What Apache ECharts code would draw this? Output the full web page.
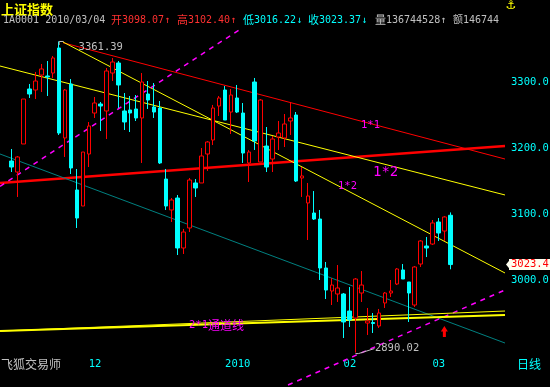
<!DOCTYPE html>
<html><head><meta charset="utf-8">
<script src="https://cdn.jsdelivr.net/npm/echarts@6/dist/echarts.min.js"></script>
<style>html,body{margin:0;padding:0;background:#000;}#c{width:550px;height:387px;}</style>
</head><body><div id="c"></div>
<script>
// ---------- data ----------
const dates = [
 '2009/11/12','2009/11/13','2009/11/16','2009/11/17','2009/11/18','2009/11/19','2009/11/20','2009/11/23','2009/11/24','2009/11/25','2009/11/26','2009/11/27','2009/11/30',
 '2009/12/01','2009/12/02','2009/12/03','2009/12/04','2009/12/07','2009/12/08','2009/12/09','2009/12/10','2009/12/11','2009/12/14','2009/12/15','2009/12/16','2009/12/17','2009/12/18','2009/12/21','2009/12/22','2009/12/23','2009/12/24','2009/12/25','2009/12/28','2009/12/29','2009/12/30','2009/12/31',
 '2010/01/04','2010/01/05','2010/01/06','2010/01/07','2010/01/08','2010/01/11','2010/01/12','2010/01/13','2010/01/14','2010/01/15','2010/01/18','2010/01/19','2010/01/20','2010/01/21','2010/01/22','2010/01/25','2010/01/26','2010/01/27','2010/01/28','2010/01/29',
 '2010/02/01','2010/02/02','2010/02/03','2010/02/04','2010/02/05','2010/02/08','2010/02/09','2010/02/10','2010/02/11','2010/02/12','2010/02/22','2010/02/23','2010/02/24','2010/02/25','2010/02/26',
 '2010/03/01','2010/03/02','2010/03/03','2010/03/04'
];
const opens = [
 3180.3,3163.6,3206.1,3289.4,3287.9,3310.6,3309.1,3313.6,3351.5,3215.2,
 3297.0,3136.4,3112.1,3190.9,3253.0,3266.7,3256.1,3313.6,3328.8,3256.1,
 3257.6,3259.1,3245.5,3281.8,3262.1,3260.6,3153.0,3106.1,3124.2,3048.5,
 3078.8,3147.0,3147.0,3190.9,3212.1,3263.6,3287.9,3254.5,3275.8,3253.0,
 3177.3,3300.0,3178.8,3203.0,3183.3,3216.7,3215.2,3240.9,3250.0,3154.5,
 3116.7,3101.5,3092.4,3018.2,2983.3,2978.8,2978.8,2953.0,2942.4,2980.3,
 2934.8,2935.6,2930.3,2965.2,2980.3,2993.9,3015.2,2997.0,2962.1,3024.2,
 3051.5,3054.5,3087.9,3074.2,3098.07
];
const closes = [
 3171.2,3186.4,3274.2,3281.8,3301.5,3319.7,3307.6,3336.4,3222.7,3287.9,
 3169.7,3093.9,3193.9,3233.3,3268.2,3263.6,3316.7,3330.3,3295.5,3239.4,
 3253.0,3245.5,3300.0,3272.7,3254.5,3177.3,3112.1,3121.2,3048.5,3072.7,
 3151.5,3139.4,3187.9,3209.1,3260.6,3275.8,3242.4,3280.3,3254.5,3192.4,
 3193.9,3210.6,3272.7,3171.2,3213.6,3222.7,3236.4,3245.5,3150.0,3157.6,
 3127.3,3092.4,3018.2,2984.8,2992.4,2987.9,2936.4,2939.4,3001.5,2992.4,
 2937.9,2934.1,2950.0,2980.3,2983.3,3016.7,3001.5,2980.3,3019.7,3059.1,
 3048.5,3086.4,3071.2,3095.5,3023.37
];
const lows = [
 3163.6,3125.8,3206.1,3275.8,3274.2,3284.8,3278.8,3306.1,3219.7,3186.4,
 3160.6,3078.8,3112.1,3171.2,3245.5,3225.8,3213.6,3301.5,3260.6,3227.3,
 3224.2,3240.9,3177.3,3259.1,3245.5,3175.8,3106.1,3087.9,3037.9,3039.4,
 3072.7,3125.8,3147.0,3165.2,3204.5,3248.5,3242.4,3221.2,3253.0,3177.3,
 3148.5,3197.0,3178.8,3163.6,3163.6,3197.0,3201.5,3219.7,3148.5,3125.8,
 3060.6,3090.9,3000.0,2971.2,2962.1,2966.7,2912.1,2928.8,2890.02,2966.7,
 2916.7,2919.7,2927.3,2957.6,2974.2,2992.4,3001.5,2936.4,2959.1,3019.7,
 3034.8,3053.0,3059.1,3059.1,3016.22
];
const highs = [
 3198.5,3187.9,3274.2,3297.0,3315.2,3327.3,3331.8,3339.4,3361.39,3289.4,
 3304.5,3168.2,3193.9,3239.4,3277.3,3269.7,3321.2,3336.4,3331.8,3283.3,
 3278.8,3280.3,3313.6,3301.5,3298.5,3271.2,3168.2,3124.2,3128.8,3077.3,
 3154.5,3153.0,3200.0,3210.6,3265.2,3278.8,3293.9,3289.4,3295.5,3268.2,
 3197.0,3306.1,3274.2,3231.8,3218.2,3240.9,3251.5,3269.7,3254.5,3171.2,
 3147.0,3134.8,3106.1,3027.3,3003.0,3022.7,2980.3,2989.4,3003.0,3013.6,
 2957.6,2950.0,2956.1,2981.8,3000.0,3018.2,3024.2,2997.0,3021.2,3060.6,
 3065.2,3090.9,3093.9,3097.0,3102.40
];
const yTicks = [3000, 3100, 3200, 3300];
const tickDates = ['2009/12/01', '2010/01/04', '2010/02/01', '2010/03/01'];
const tickLabels = ['12', '2010', '02', '03'];
const volumeText = '136744528';
const amountText = '14674480';
// drawn lines: [trading-day index, price] end points
const redUpperLine   = [[8.66, 3359.5], [83.23, 3183.3]];
const redLowerLine   = [[-1.974, 3147.0], [83.23, 3203.0]];
const yellowLineA    = [[-1.974, 3324.2], [83.23, 3128.8]];
const yellowLineB    = [[8.66, 3360.6], [83.23, 3010.6]];
const tealLine       = [[-1.974, 3190.9], [83.23, 2904.5]];
const magentaLine1   = [[-1.974, 3142.0], [38.35, 3378.8]];
const magentaLine2   = [[46.62, 2840.9], [83.23, 2984.8]];
const yellowChannel1 = [[-1.974, 2922.7], [83.23, 2947.0]];
const yellowChannel2 = [[-1.974, 2922.7], [83.23, 2953.0]];

// ---------- chart ----------
const MONO = "'DejaVu Sans Mono', monospace";
const CJK = "'Noto Sans CJK SC', sans-serif";
const RED = '#ff0000', CYAN = '#00ffff', YEL = '#ffff00', MAG = '#ff00ff', GREY = '#c0c0c0';
const xMin = -1.974, xMax = 83.23, yMin = 2885, yMax = 3380;
const tickIdx = tickDates.map(d => dates.indexOf(d));
const last = closes.length - 1;

function lineSeries(data, color, width, type, clip) {
  return { type: 'line', data: data, symbol: 'none', silent: true, clip: clip !== false,
    lineStyle: { color: color, width: width, type: type || 'solid' }, z: 3 };
}

const chart = echarts.init(document.getElementById('c'));
chart.setOption({
  backgroundColor: '#000',
  animation: false,
  grid: { left: 0, right: 45, top: 29.2, bottom: 31.1, containLabel: false, outerBoundsMode: 'none' },
  xAxis: {
    type: 'value', min: xMin, max: xMax,
    splitLine: { show: false }, axisLine: { show: false }, axisTick: { show: false },
    axisLabel: { customValues: tickIdx, formatter: v => tickLabels[tickIdx.indexOf(v)] || '',
      color: CYAN, align: 'left', margin: 3, fontFamily: MONO, fontSize: 10.5 }
  },
  yAxis: [
    { type: 'value', position: 'right', min: yMin, max: yMax,
      splitLine: { show: false }, axisLine: { show: false }, axisTick: { show: false },
      axisLabel: { customValues: yTicks, formatter: v => v.toFixed(1), color: CYAN,
        fontFamily: MONO, fontSize: 10.5, margin: 6 } },
    { type: 'value', position: 'right', min: yMin, max: yMax, offset: 0,
      splitLine: { show: false }, axisLine: { show: false }, axisTick: { show: false },
      axisLabel: { customValues: [closes[last]], formatter: v => v.toFixed(1), color: RED,
        fontFamily: MONO, fontSize: 10.5, margin: 4, backgroundColor: '#fffff0',
        padding: [0, 2, 0, 2], lineHeight: 11 } }
  ],
  series: [
    lineSeries(redUpperLine, RED, 1),
    lineSeries(redLowerLine, RED, 2.5),
    lineSeries(yellowLineA, YEL, 1),
    lineSeries(yellowLineB, YEL, 1),
    lineSeries(tealLine, '#008080', 1),
    lineSeries(magentaLine1, MAG, 1.5, [5, 5]),
    lineSeries(magentaLine2, MAG, 1.5, [5, 5], false),
    lineSeries(yellowChannel1, YEL, 2),
    lineSeries(yellowChannel2, YEL, 1),
    {
      type: 'candlestick', z: 5, silent: true,
      data: dates.map((d, i) => [i, opens[i], closes[i], lows[i], highs[i]]),
      encode: { x: 0, y: [1, 2, 3, 4] },
      barWidth: 4,
      itemStyle: { color: '#000', color0: CYAN, borderColor: RED, borderColor0: CYAN, borderWidth: 1 }
    }
  ]
});

// ---------- annotations ----------
const P = (i, v) => chart.convertToPixel({ xAxisIndex: 0, yAxisIndex: 0 }, [i, v]);
const hiIdx = highs.indexOf(Math.max(...highs));
const loIdx = lows.indexOf(Math.min(...lows));
const [hx, hy] = P(hiIdx, highs[hiIdx]);
const [lx, ly] = P(loIdx, lows[loIdx]);
const ty = P(last, closes[last])[1];
const ax = P(73, closes[last])[0];

function txt(x, y, text, fill, font, extra) {
  return Object.assign({ type: 'text', x: x, y: y, silent: true, z: 50,
    style: { text: text, fill: fill, font: font, verticalAlign: 'middle' } }, extra || {});
}
function rich(x, y, cjk, num, fill) {
  return { type: 'text', x: x, y: y, silent: true, z: 50,
    style: { text: '{c|' + cjk + '}{n|' + num + '}', fill: fill, verticalAlign: 'middle',
      rich: { c: { fontFamily: CJK, fontSize: 11, fill: fill }, n: { fontFamily: MONO, fontSize: 10, fill: fill } } } };
}

const g = [];
g.push(txt(1, 9, '上证指数', YEL, 'bold 13px ' + CJK));
g.push(txt(3, 20, '1A0001 ' + dates[last], GREY, '10px ' + MONO));
g.push(rich(111, 20, '开', opens[last].toFixed(2) + '↑', '#ff3030'));
g.push(rich(177, 20, '高', highs[last].toFixed(2) + '↑', '#ff3030'));
g.push(rich(243, 20, '低', lows[last].toFixed(2) + '↓', CYAN));
g.push(rich(308, 20, '收', closes[last].toFixed(2) + '↓', CYAN));
g.push(rich(375, 20, '量', volumeText + '↑', GREY));
g.push({ type: 'text', x: 453, y: 20, silent: true, z: 50,
  style: { text: '额' + amountText, fill: GREY, font: "10px 'DejaVu Sans Mono', 'Noto Sans CJK SC'",
    verticalAlign: 'middle', width: 52, overflow: 'truncate', ellipsis: '' } });
g.push(txt(511, 6, '⚓', YEL, "bold 12px 'DejaVu Sans'", { style: { text: '⚓', fill: YEL, font: "bold 12px 'DejaVu Sans'", align: 'center', verticalAlign: 'middle' } }));

g.push(txt(1, 364, '飞狐交易师', GREY, '12px ' + CJK));
g.push(txt(517, 364, '日线', CYAN, '12px ' + CJK));

g.push(txt(361, 125, '1*1', MAG, '10.5px ' + MONO));
g.push(txt(373, 172.5, '1*2', MAG, '14px ' + MONO));
g.push(txt(338, 186.5, '1*2', MAG, '10.5px ' + MONO));
g.push({ type: 'text', x: 189, y: 325, silent: true, z: 50,
  style: { text: '{n|2*1}{c|通道线}', fill: MAG, verticalAlign: 'middle',
    rich: { n: { fontFamily: MONO, fontSize: 10.5, fill: MAG }, c: { fontFamily: CJK, fontSize: 12, fill: MAG } } } });

// high / low markers
g.push({ type: 'polyline', silent: true, z: 50, shape: { points: [[hx, hy + 3.5], [hx, hy], [hx + 4.5, hy]] },
  style: { stroke: GREY, lineWidth: 1, fill: null } });
g.push(txt(hx + 19.5, hy + 6, highs[hiIdx].toFixed(2), GREY, '10.5px ' + MONO));
g.push({ type: 'polyline', silent: true, z: 50, shape: { points: [[lx, ly + 1], [lx + 3, ly + 1], [lx + 19, ly - 4]] },
  style: { stroke: GREY, lineWidth: 1, fill: null } });
g.push(txt(lx + 19.5, ly - 4.6, lows[loIdx].toFixed(2), GREY, '10.5px ' + MONO));

// price tag pointer
g.push({ type: 'polygon', silent: true, z: 50, shape: { points: [[506, ty], [510.5, ty - 5.5], [510.5, ty + 5.5]] },
  style: { fill: '#fffff0' } });
// red up arrow
g.push({ type: 'polygon', silent: true, z: 50,
  shape: { points: [[ax - 3.5, 331.5], [ax, 326], [ax + 3.5, 331.5], [ax + 1.5, 331.5], [ax + 1.5, 337], [ax - 1.5, 337], [ax - 1.5, 331.5]] },
  style: { fill: RED } });

chart.setOption({ graphic: g });
</script></body></html>
